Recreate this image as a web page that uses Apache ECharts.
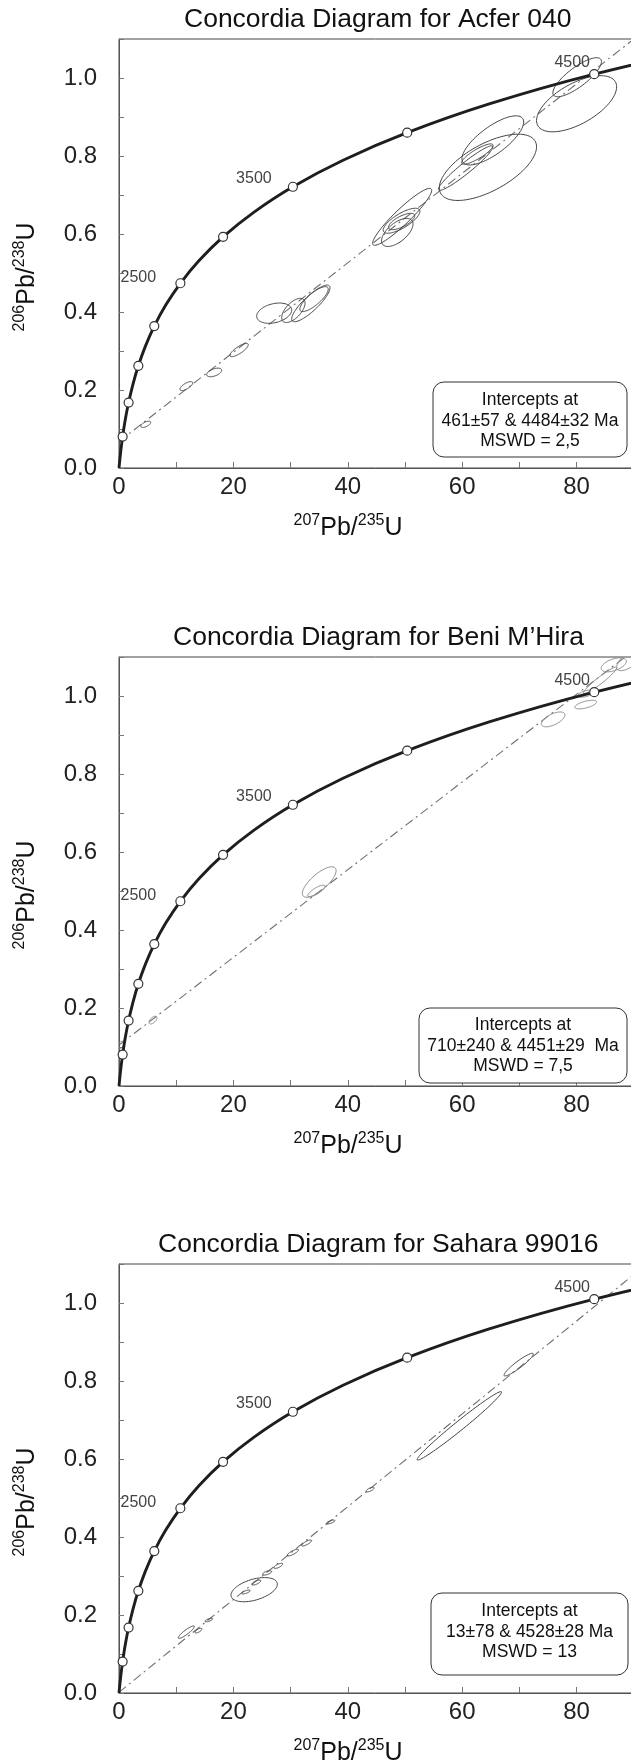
<!DOCTYPE html>
<html><head><meta charset="utf-8">
<script src="https://cdn.jsdelivr.net/npm/echarts@6/dist/echarts.min.js"></script>
<style>html,body{margin:0;padding:0;background:#fff}#c{width:631px;height:1762px}</style>
</head><body><div id="c"></div>
<script>
// ---- Concordia curve (ages in Ma, ratios) ----
const concordiaAge = [0,125,250,375,500,750,1000,1250,1500,1750,2000,2250,2500,2750,3000,3250,3500,3750,4000,4250,4500,4750];
const concordiaX = [0,0.131,0.2792,0.4468,0.6362,1.093,1.6774,2.4249,3.3812,4.6043,6.1689,8.1705,10.729,14.005,18.193,23.552,30.40,39.17,50.38,64.73,83.08,106.55];
const concordiaY = [0,0.0196,0.0395,0.0599,0.0806,0.1234,0.1678,0.2140,0.2620,0.3119,0.3638,0.4177,0.4737,0.5320,0.5927,0.6556,0.7211,0.7891,0.8597,0.9334,1.0098,1.0893];
const labelledAges = [2500, 3500, 4500];

// ---- Panel titles / intercept texts ----
const panelTitles = ['Concordia Diagram for Acfer 040', 'Concordia Diagram for Beni M\u2019Hira', 'Concordia Diagram for Sahara 99016'];
const acferIntercepts = ['Intercepts at', '461\u00b157 & 4484\u00b132 Ma', 'MSWD = 2,5'];
const beniIntercepts = ['Intercepts at', '710\u00b1240 & 4451\u00b129  Ma', 'MSWD = 7,5'];
const saharaIntercepts = ['Intercepts at', '13\u00b178 & 4528\u00b128 Ma', 'MSWD = 13'];

// ---- Discordia lines: [x, y] end points ----
const acferDiscordia = [[0, 0.0675], [95, 1.157]];
const beniDiscordia = [[0, 0.105], [95, 1.173]];
const saharaDiscordia = [[0, 0.0017], [95, 1.1323]];

// ---- Error ellipses: [x, sx, y, sy, rho] ----
const acferEllipses = [
  [80.1, 4.25, 1.002, 0.050, 0.8],
  [80.0, 7.0, 0.934, 0.072, 0.6],
  [65.35, 5.4, 0.84, 0.063, 0.75],
  [64.5, 8.5, 0.771, 0.085, 0.62],
  [60.6, 4.75, 0.769, 0.057, 0.95],
  [62.65, 2.75, 0.805, 0.026, 0.85],
  [49.5, 5.16, 0.644, 0.073, 0.93],
  [48.65, 2.75, 0.604, 0.036, 0.6],
  [49.4, 3.2, 0.634, 0.032, 0.75],
  [49.4, 2.3, 0.632, 0.021, 0.7],
  [27.13, 3.06, 0.397, 0.026, 0.3],
  [30.48, 2.04, 0.404, 0.031, 0.6],
  [33.54, 3.35, 0.422, 0.047, 0.85],
  [34.1, 2.48, 0.433, 0.032, 0.8],
  [21.0, 1.6, 0.3025, 0.017, 0.8],
  [16.64, 1.31, 0.245, 0.011, 0.5],
  [11.77, 1.11, 0.21, 0.0115, 0.7],
  [4.67, 0.87, 0.112, 0.008, 0.6],
  [0.4, 0.8, 0.078, 0.011, 0.5]
];
const beniEllipses = [
  [86.5, 2.2, 1.08, 0.018, 0.5],
  [89.5, 2.5, 1.095, 0.03, 0.7],
  [84.1, 2.9, 1.04, 0.034, 0.95],
  [81.6, 1.3, 1.006, 0.009, 0.5],
  [81.6, 1.9, 0.978, 0.011, 0.6],
  [75.9, 2.05, 0.94, 0.019, 0.6],
  [35.0, 2.95, 0.523, 0.039, 0.75],
  [34.5, 1.5, 0.5, 0.015, 0.8],
  [5.94, 0.7, 0.169, 0.01, 0.6],
  [0.3, 0.6, 0.105, 0.01, 0.5]
];
const saharaEllipses = [
  [69.87, 2.56, 0.842, 0.029, 0.93],
  [59.5, 7.38, 0.685, 0.0878, 0.985],
  [23.63, 4.05, 0.265, 0.031, 0.45],
  [22.2, 0.73, 0.259, 0.005, 0.7],
  [24.0, 0.79, 0.2833, 0.0064, 0.7],
  [25.9, 0.79, 0.308, 0.0055, 0.6],
  [27.85, 0.76, 0.326, 0.0065, 0.7],
  [30.4, 0.97, 0.36, 0.0085, 0.8],
  [32.8, 0.87, 0.3846, 0.0077, 0.8],
  [37.0, 0.73, 0.4385, 0.005, 0.7],
  [43.9, 0.7, 0.5215, 0.006, 0.7],
  [11.77, 1.4, 0.156, 0.016, 0.9],
  [15.7, 0.68, 0.187, 0.0045, 0.7],
  [13.9, 0.6, 0.16, 0.006, 0.7]
];

// ---- Layout (pixels) ----
const FONT = "'Liberation Sans', Arial, sans-serif";
const GRID_LEFT = 119, GRID_W = 572, GRID_H = 429;
const gridTops = [39, 657, 1264];
const TITLE_SIZE = 26.5, TITLE_CX = 378;
const TICK_SIZE = 24;
const boxLayout = [
  {x: 433, w: 194, top: 343, h: 75, textY: 382},
  {x: 419, w: 208, top: 351, h: 75, textY: 389},
  {x: 431, w: 197, top: 329, h: 82, textY: 368}
];
const ellipseColors = ['#444', '#8a8a8a', '#444'];
const ageLabelOffset = {2500: [-42, -6], 3500: [-39, -8], 4500: [-22, -12]};

const panels = [
  {title: panelTitles[0], ellipses: acferEllipses, discordia: acferDiscordia, box: acferIntercepts},
  {title: panelTitles[1], ellipses: beniEllipses, discordia: beniDiscordia, box: beniIntercepts},
  {title: panelTitles[2], ellipses: saharaEllipses, discordia: saharaDiscordia, box: saharaIntercepts}
];

const concordiaData = concordiaX.map((x, i) => [x, concordiaY[i]]);
const markerData = [];
concordiaAge.forEach((a, i) => {
  if (a > 0 && a % 500 === 0) {
    const item = {value: [concordiaX[i], concordiaY[i]]};
    if (labelledAges.indexOf(a) >= 0) {
      item.label = {show: true, position: 'inside', offset: ageLabelOffset[a], formatter: String(a),
        fontSize: 16, color: '#444', fontFamily: FONT};
    }
    markerData.push(item);
  }
});

function makeEllipseRenderer(color) {
  return function (params, api) {
    const cx = api.value(0), sx = api.value(1), cy = api.value(2), sy = api.value(3), r = api.value(4);
    const q = Math.sqrt(Math.max(0, 1 - r * r));
    const pts = [];
    for (let k = 0; k < 90; k++) {
      const t = 2 * Math.PI * k / 90;
      pts.push(api.coord([cx + sx * Math.cos(t), cy + sy * (r * Math.cos(t) + q * Math.sin(t))]));
    }
    const cs = params.coordSys;
    return {
      type: 'polygon', shape: {points: pts},
      style: {fill: 'none', stroke: color, lineWidth: 1},
      clipPath: {type: 'rect', shape: {x: cs.x, y: cs.y, width: cs.width, height: cs.height}}
    };
  };
}

const measureCtx = document.createElement('canvas').getContext('2d');
function textWidth(str, size) {
  measureCtx.font = size + 'px ' + FONT;
  return measureCtx.measureText(str).width;
}

const grids = [], xAxes = [], yAxes = [], series = [], graphics = [], titles = [];
panels.forEach((p, i) => {
  const top = gridTops[i];
  grids.push({left: GRID_LEFT, top: top, width: GRID_W, height: GRID_H, show: true,
    outerBoundsMode: 'none', containLabel: false,
    borderColor: '#444', borderWidth: 1, backgroundColor: 'transparent'});
  xAxes.push({gridIndex: i, type: 'value', min: 0, max: 100, interval: 10,
    axisLine: {show: true, onZero: false, lineStyle: {color: '#555', width: 1}},
    axisTick: {show: true, inside: true, length: 6, lineStyle: {color: '#777'}},
    splitLine: {show: false},
    axisLabel: {margin: 7, fontSize: TICK_SIZE, color: '#222', fontFamily: FONT, hideOverlap: false,
      formatter: v => (Math.round(v) % 20 === 0 ? String(Math.round(v)) : '')}});
  yAxes.push({gridIndex: i, type: 'value', min: 0, max: 1.1, interval: 0.1,
    axisLine: {show: true, onZero: false, lineStyle: {color: '#555', width: 1}},
    axisTick: {show: true, inside: true, length: 5, lineStyle: {color: '#777'}},
    splitLine: {show: false},
    axisLabel: {margin: 22, fontSize: TICK_SIZE, color: '#222', fontFamily: FONT, hideOverlap: false,
      formatter: v => { const k = Math.round(v * 10); return (k % 2 === 0 && k <= 10) ? (k / 10).toFixed(1) : ''; }}});

  series.push({type: 'line', xAxisIndex: i, yAxisIndex: i, data: p.discordia, symbol: 'none', silent: true,
    lineStyle: {color: '#707070', width: 1.1, type: [9, 4, 2, 4]}, z: 1, animation: false});
  series.push({type: 'custom', xAxisIndex: i, yAxisIndex: i, data: p.ellipses, encode: {x: 0, y: 2},
    renderItem: makeEllipseRenderer(ellipseColors[i]), z: 2, silent: true, animation: false});
  series.push({type: 'line', xAxisIndex: i, yAxisIndex: i, data: concordiaData, symbol: 'none', silent: true,
    smooth: 0.35, lineStyle: {color: '#1e1e1e', width: 2.9}, z: 3, animation: false});
  series.push({type: 'scatter', xAxisIndex: i, yAxisIndex: i, data: markerData, symbol: 'circle', symbolSize: 9,
    itemStyle: {color: '#fff', borderColor: '#333', borderWidth: 1.2, opacity: 1}, z: 4, silent: true, animation: false});

  // title
  const tw = textWidth(p.title, TITLE_SIZE);
  titles.push({text: p.title, left: Math.round(TITLE_CX - tw / 2), top: top - 33, padding: 0,
    textStyle: {fontSize: TITLE_SIZE, fontWeight: 'normal', color: '#111', fontFamily: FONT}});
  // x axis name
  graphics.push({type: 'text', x: 348, y: top + GRID_H + 60, silent: true,
    style: {text: '{s|207}{n|Pb/}{s|235}{n|U}', align: 'center', verticalAlign: 'middle', fill: '#111',
      rich: {s: {fontSize: 16, fontFamily: FONT, verticalAlign: 'top', fill: '#111'},
             n: {fontSize: 25, lineHeight: 31, fontFamily: FONT, fill: '#111'}}}});
  // y axis name
  graphics.push({type: 'text', x: 27, y: top + 238, rotation: Math.PI / 2, silent: true,
    style: {text: '{s|206}{n|Pb/}{s|238}{n|U}', align: 'center', verticalAlign: 'middle', fill: '#111',
      rich: {s: {fontSize: 16, fontFamily: FONT, verticalAlign: 'top', fill: '#111'},
             n: {fontSize: 25, lineHeight: 31, fontFamily: FONT, fill: '#111'}}}});
  // intercept box
  const b = boxLayout[i];
  graphics.push({type: 'rect', silent: true, z: 10,
    shape: {x: b.x, y: top + b.top, width: b.w, height: b.h, r: 11},
    style: {fill: '#fff', stroke: '#333', lineWidth: 1}});
  graphics.push({type: 'text', x: b.x + b.w / 2, y: top + b.textY, silent: true, z: 11,
    style: {text: p.box.join('\n'), align: 'center', verticalAlign: 'middle', fontSize: 17.5,
      lineHeight: 20.5, fontFamily: FONT, fill: '#111'}});
});

const chart = echarts.init(document.getElementById('c'), null, {renderer: 'canvas'});
chart.setOption({
  animation: false,
  backgroundColor: '#fff',
  title: titles,
  grid: grids, xAxis: xAxes, yAxis: yAxes, series: series, graphic: graphics
});
</script>
</body></html>
